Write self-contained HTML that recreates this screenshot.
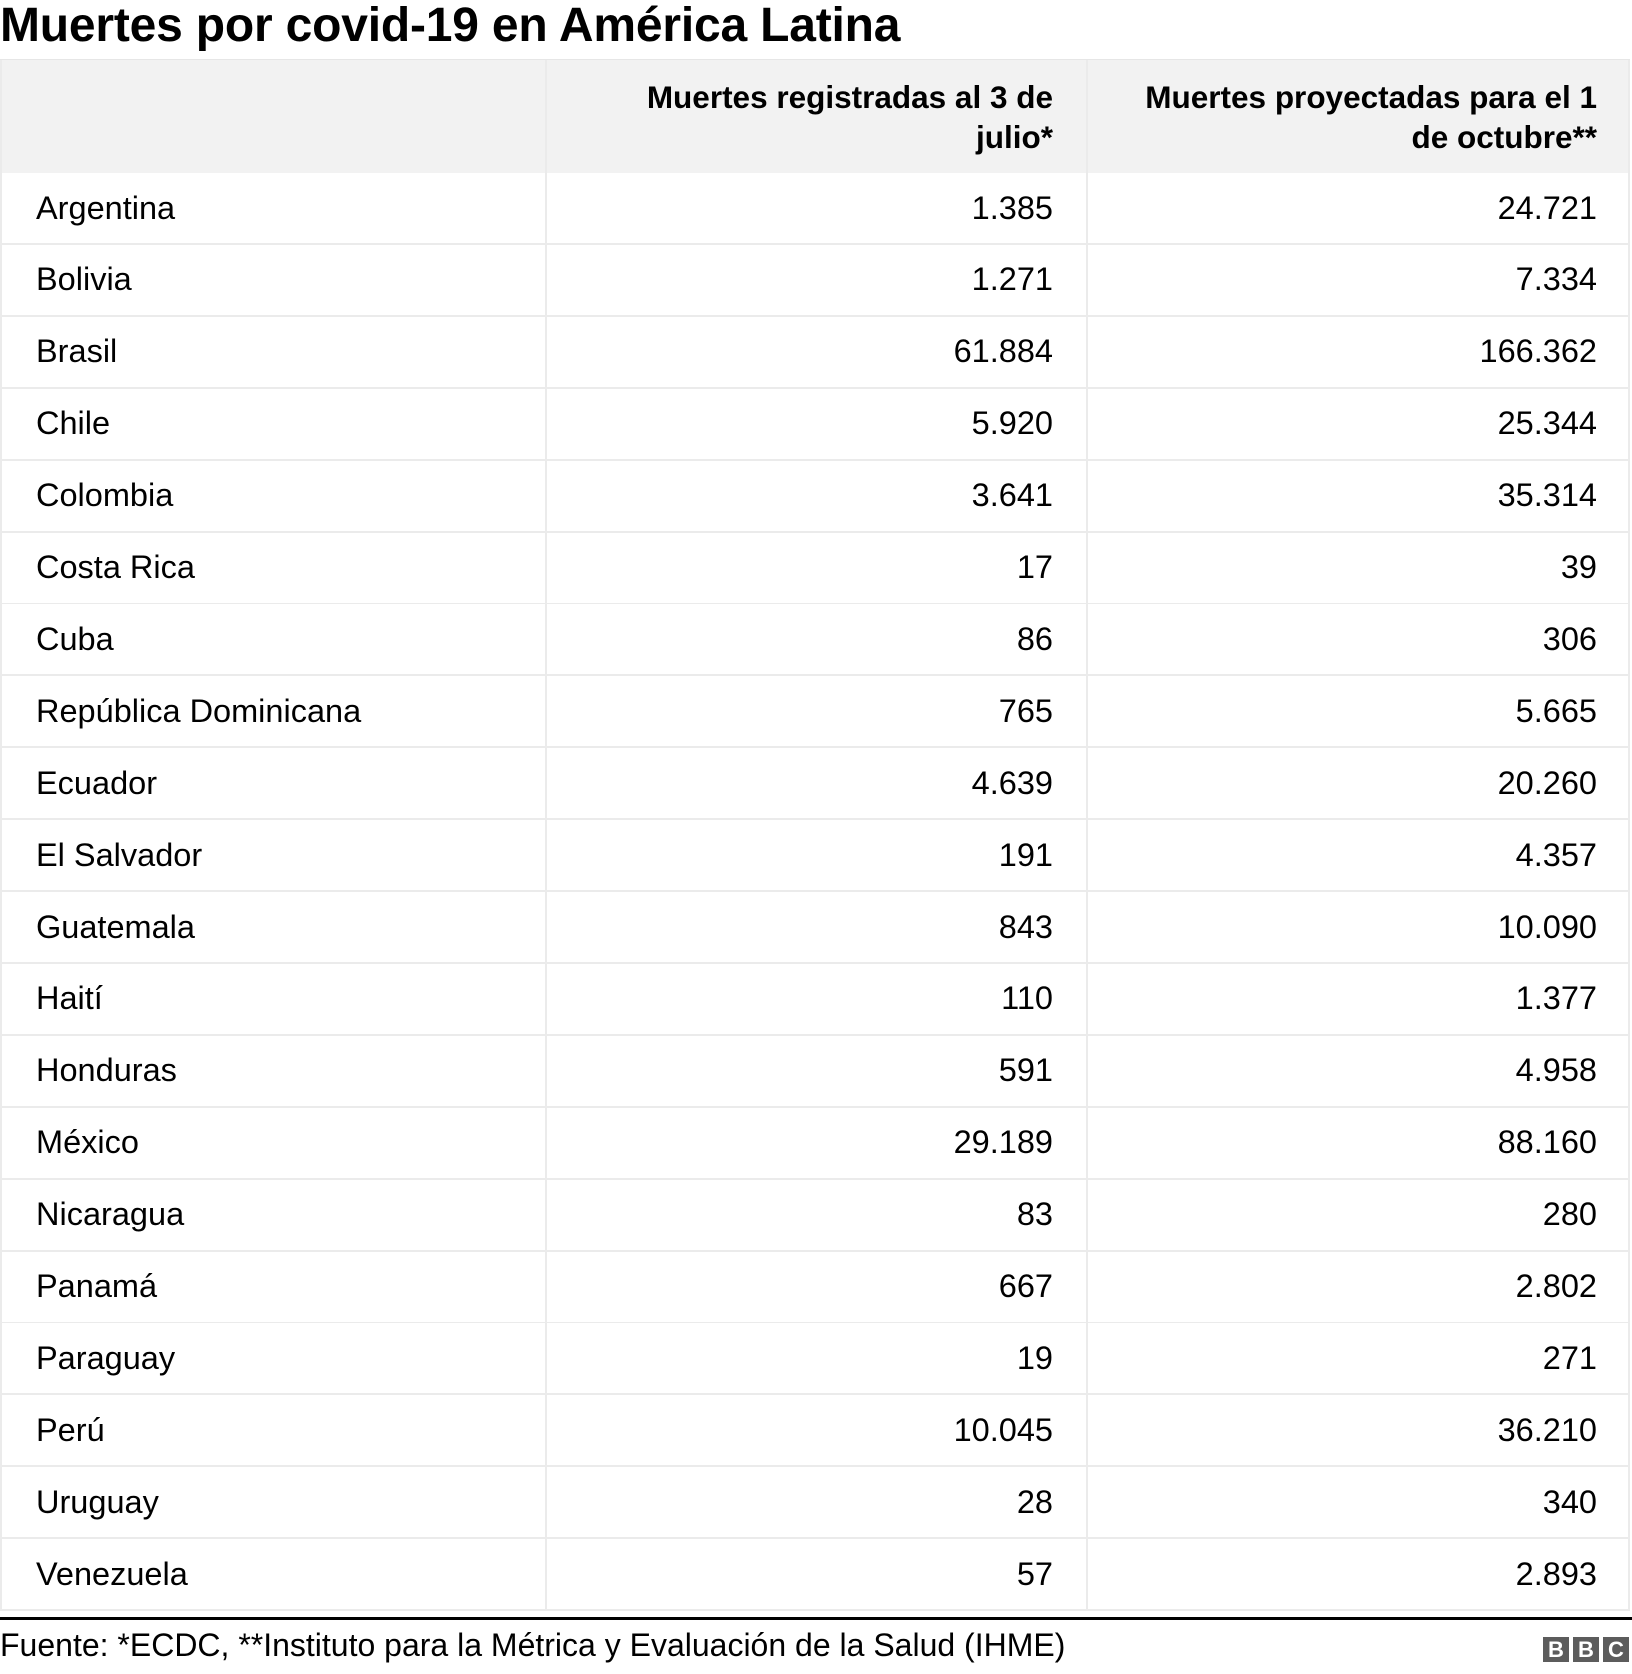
<!DOCTYPE html>
<html><head><meta charset="utf-8"><style>
body{margin:0;width:1632px;height:1674px;background:#fff;font-family:"Liberation Sans",Arial,sans-serif;color:#000;position:relative;overflow:hidden}
.title{position:absolute;left:0;top:-2px;font-size:48px;font-weight:bold;white-space:nowrap;letter-spacing:-0.2px}
.tbl{position:absolute;left:0;top:59px;width:1630px}
.hdr{position:absolute;left:0;top:0;width:1630px;height:114px;background:#f2f2f2;border-top:1px solid #e6e6e6}
.row{position:absolute;left:0;width:1630px;height:70px;border-bottom:2px solid #ebebeb;background:#fff}
.c{position:absolute;top:0;height:100%;display:flex;align-items:center;font-size:32.5px;box-sizing:border-box;white-space:nowrap}
.c0{left:0;width:545px;padding-left:34px;border-left:2px solid #ebebeb}
.c1{left:545px;width:541px;justify-content:flex-end;padding-right:33px;border-left:2px solid #ebebeb}
.c2{left:1086px;width:544px;justify-content:flex-end;padding-right:31px;border-left:2px solid #ebebeb;border-right:2px solid #ebebeb}
.hdr .c{font-weight:bold;text-align:right;line-height:40px;align-items:center;font-size:31.5px}
.foot-line{position:absolute;left:0;top:1617px;width:1632px;height:3px;background:#000}
.source{position:absolute;left:0;top:1627px;font-size:32px;white-space:nowrap}
.bbc{position:absolute;top:1637px;width:26px;height:25px;background:#5c5c5c;color:#fff;font-weight:bold;font-size:22px;text-align:center;line-height:25px}
</style></head><body>
<div class="title">Muertes por covid-19 en América Latina</div>
<div class="tbl" id="tbl">
<div class="hdr">
<div class="c c0"></div>
<div class="c c1">Muertes registradas al 3 de<br>julio*</div>
<div class="c c2">Muertes proyectadas para el 1<br>de octubre**</div>
</div>
</div>
<div class="foot-line"></div>
<div class="source">Fuente: *ECDC, **Instituto para la Métrica y Evaluación de la Salud (IHME)</div>
<div class="bbc" style="left:1543px">B</div>
<div class="bbc" style="left:1573px">B</div>
<div class="bbc" style="left:1603px">C</div>
<script>
const countries=["Argentina","Bolivia","Brasil","Chile","Colombia","Costa Rica","Cuba","República Dominicana","Ecuador","El Salvador","Guatemala","Haití","Honduras","México","Nicaragua","Panamá","Paraguay","Perú","Uruguay","Venezuela"];
const registered=["1.385","1.271","61.884","5.920","3.641","17","86","765","4.639","191","843","110","591","29.189","83","667","19","10.045","28","57"];
const projected=["24.721","7.334","166.362","25.344","35.314","39","306","5.665","20.260","4.357","10.090","1.377","4.958","88.160","280","2.802","271","36.210","340","2.893"];
const tbl=document.getElementById('tbl');
countries.forEach((c,i)=>{
  const r=document.createElement('div');
  r.className='row';
  r.style.top=(114+i*71.9)+'px';
  
  
  const vals=[c,registered[i],projected[i]];
  vals.forEach((v,j)=>{
    const d=document.createElement('div');
    d.className='c c'+j;
    d.textContent=v;
    
    
    r.appendChild(d);
  });
  tbl.appendChild(r);
});
</script>
</body></html>
